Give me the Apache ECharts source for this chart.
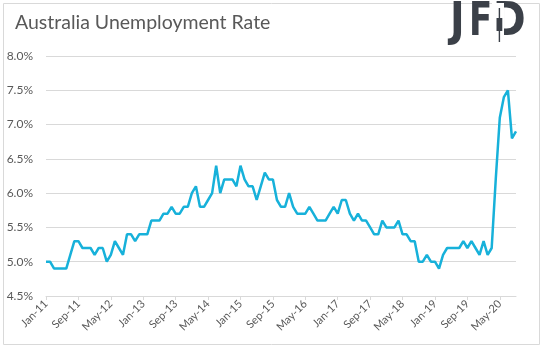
<!DOCTYPE html>
<html>
<head>
<meta charset="utf-8">
<script src="https://cdn.jsdelivr.net/npm/echarts@6/dist/echarts.min.js"></script>
<style>
  html, body { margin: 0; padding: 0; background: #fff; }
  #chart { width: 543px; height: 352px; }
</style>
</head>
<body>
<div id="chart"></div>
<script>
  // monthly labels, Jan-11 .. Sep-20
  var monthNames = ['Jan', 'Feb', 'Mar', 'Apr', 'May', 'Jun', 'Jul', 'Aug', 'Sep', 'Oct', 'Nov', 'Dec']
  var months = []
  for (var y = 11; y <= 20; y++) {
    for (var m = 0; m < 12; m++) {
      if (y === 20 && m > 8) break
      months.push(monthNames[m] + '-' + y)
    }
  }

  // unemployment rate, %
  var rate = [
    5.0, 5.0, 4.9, 4.9, 4.9, 4.9, 5.1, 5.3, 5.3, 5.2, 5.2, 5.2,
    5.1, 5.2, 5.2, 5.0, 5.1, 5.3, 5.2, 5.1, 5.4, 5.4, 5.3, 5.4,
    5.4, 5.4, 5.6, 5.6, 5.6, 5.7, 5.7, 5.8, 5.7, 5.7, 5.8, 5.8,
    6.0, 6.1, 5.8, 5.8, 5.9, 6.0, 6.4, 6.0, 6.2, 6.2, 6.2, 6.1,
    6.4, 6.2, 6.1, 6.1, 5.9, 6.1, 6.3, 6.2, 6.2, 5.9, 5.8, 5.8,
    6.0, 5.8, 5.7, 5.7, 5.7, 5.8, 5.7, 5.6, 5.6, 5.6, 5.7, 5.8,
    5.7, 5.9, 5.9, 5.7, 5.6, 5.7, 5.6, 5.6, 5.5, 5.4, 5.4, 5.6,
    5.5, 5.5, 5.5, 5.6, 5.4, 5.4, 5.3, 5.3, 5.0, 5.0, 5.1, 5.0,
    5.0, 4.9, 5.1, 5.2, 5.2, 5.2, 5.2, 5.3, 5.2, 5.3, 5.2, 5.1,
    5.3, 5.1, 5.2, 6.2, 7.1, 7.4, 7.5, 6.8, 6.9
  ]

  var yMin = 4.5
  var yMax = 8.0
  var yStep = 0.5

  var logoFont = 'bold 46px "DejaVu Sans Condensed"'
  var logoColor = '#3b4048'

  var myChart = echarts.init(document.getElementById('chart'))
  myChart.setOption({
    animation: false,
    textStyle: { fontFamily: 'Lato' },
    graphic: [
      {
        type: 'rect',
        shape: { x: 3.5, y: 3.5, width: 536, height: 341 },
        style: { fill: 'none', stroke: '#d9d9d9', lineWidth: 1 },
        silent: true
      },
      {
        type: 'text',
        left: 15,
        top: 13,
        style: {
          text: 'Australia Unemployment Rate',
          font: '19.5px Lato',
          fill: '#595959'
        }
      },
      // logo
      {
        type: 'group',
        left: 450,
        top: 0,
        children: [
          { type: 'text', x: 0, y: 2, scaleX: 0.95, style: { text: 'J', font: logoFont, fill: logoColor } },
          { type: 'text', x: 19, y: 2, scaleX: 0.82, style: { text: 'F', font: logoFont, fill: logoColor } },
          { type: 'text', x: 43, y: 2, scaleX: 0.95, style: { text: 'D', font: logoFont, fill: logoColor } },
          { type: 'rect', shape: { x: 42, y: 5, width: 12, height: 45 }, style: { fill: '#fff' } },
          { type: 'rect', shape: { x: 48.7, y: 10, width: 1.4, height: 34 }, style: { fill: logoColor } },
          { type: 'rect', shape: { x: 46.5, y: 20, width: 5.8, height: 13 }, style: { fill: logoColor } }
        ]
      }
    ],
    grid: {
      left: 46,
      right: 27,
      top: 56,
      bottom: 56
    },
    xAxis: {
      type: 'category',
      data: months,
      boundaryGap: false,
      axisLine: { lineStyle: { color: '#d9d9d9' } },
      axisTick: { interval: 7, length: 4, lineStyle: { color: '#d9d9d9' } },
      axisLabel: {
        interval: 7,
        rotate: 45,
        color: '#595959',
        fontSize: 11,
        margin: 6
      },
      splitLine: { show: false }
    },
    yAxis: {
      type: 'value',
      min: yMin,
      max: yMax,
      interval: yStep,
      axisLine: { show: false },
      axisTick: { show: false },
      axisLabel: {
        color: '#595959',
        fontSize: 12,
        margin: 13,
        formatter: function (v) { return v.toFixed(1) + '%' }
      },
      splitLine: { lineStyle: { color: '#d9d9d9' } }
    },
    series: [
      {
        name: 'Unemployment Rate',
        type: 'line',
        data: rate,
        showSymbol: false,
        lineStyle: { color: '#17b1da', width: 2.5 },
        itemStyle: { color: '#17b1da' }
      }
    ]
  })
</script>
</body>
</html>
